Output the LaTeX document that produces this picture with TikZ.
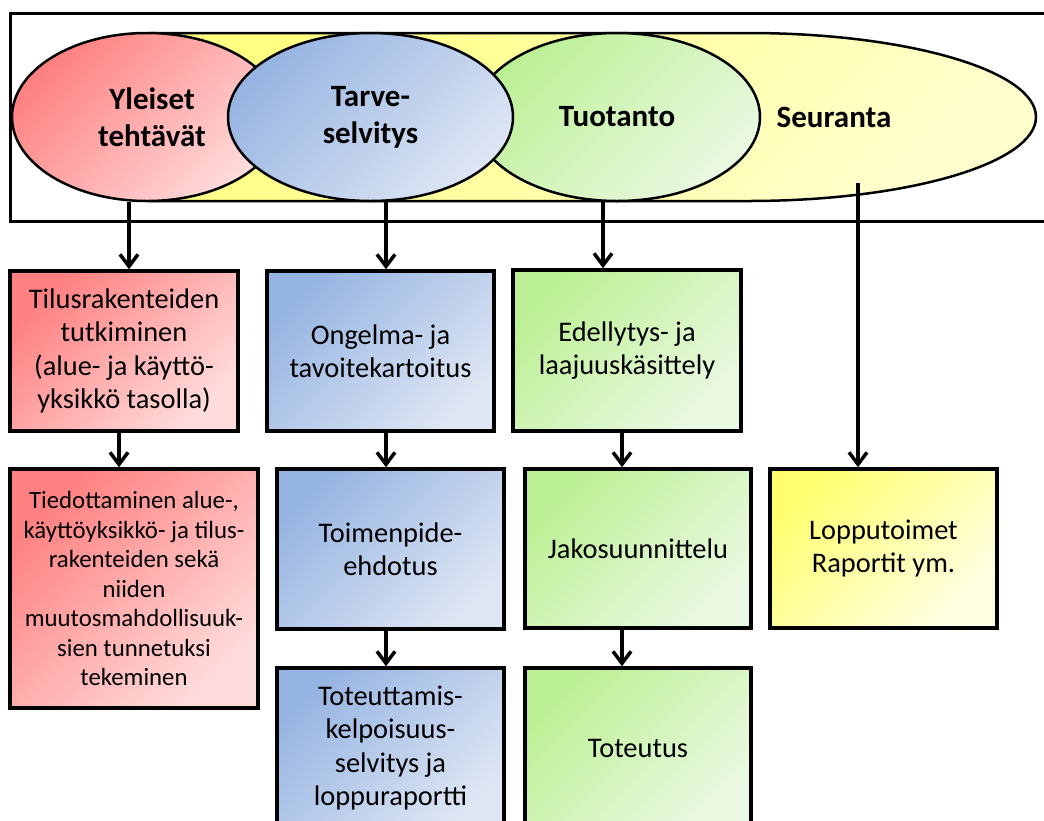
\documentclass[tikz,border=0pt]{standalone}
\usepackage{fontspec}
\setmainfont{Carlito}
\usetikzlibrary{arrows.meta,shapes.geometric}
\definecolor{redA}{RGB}{255,128,128}
\definecolor{redB}{RGB}{255,220,220}
\definecolor{bluA}{RGB}{150,180,226}
\definecolor{bluB}{RGB}{222,230,244}
\definecolor{grnA}{RGB}{188,240,148}
\definecolor{grnB}{RGB}{234,249,226}
\definecolor{yelA}{RGB}{255,255,112}
\definecolor{yelB}{RGB}{255,255,228}
\definecolor{yelC}{RGB}{255,255,130}
\definecolor{yelD}{RGB}{255,255,205}
\begin{document}
\begin{tikzpicture}[x=1pt,y=-1pt,
  ell/.style={ellipse, draw=black, line width=2.5pt, inner sep=0pt, align=center,
    font=\fontsize{31}{37}\selectfont\bfseries},
  box/.style={rectangle, draw=black, line width=3.5pt, inner sep=0pt, align=center,
    font=\fontsize{28.4}{33.5}\selectfont},
  gr/.style 2 args={top color=#1, bottom color=#2, shading angle=45},
  arr/.style={line width=3.5pt, -{Straight Barb[length=12pt,width=18pt]}}
]
\useasboundingbox (0,0) rectangle (1044,820);
\clip (0,0) rectangle (1044,820);

% outer frame
\draw[line width=3pt] (10,13) rectangle (1070,221);

% yellow band (Seuranta)
\path[draw=black, line width=2.5pt, gr={yelC}{yelD}]
  (150,33) -- (748,33) arc[start angle=90, end angle=-90, x radius=288pt, y radius=84pt]
  -- (150,201) -- cycle;
\coordinate (seur) at (858,183);
\node[font=\fontsize{31}{37}\selectfont\bfseries] (seurtxt) at (834,117) {Seuranta};

% ellipses
\node[ell, gr={grnA}{grnB}, minimum width=286pt, minimum height=168pt] (green) at (617,117) {Tuotanto};
\node[ell, gr={redA}{redB}, minimum width=270pt, minimum height=168pt] (red) at (147,117) {\hspace*{10pt}Yleiset\\\hspace*{10pt}tehtävät};
\node[ell, gr={bluA}{bluB}, minimum width=285pt, minimum height=168pt] (blue) at (370.5,117) {Tarve-\\selvitys};

% boxes
\node[box, gr={redA}{redB}, minimum width=228pt, minimum height=160pt] (r1) at (124,351)
  {Tilusrakenteiden\\tutkiminen\\(alue- ja käyttö-\\yksikkö tasolla)};
\node[box, gr={redA}{redB}, minimum width=248pt, minimum height=239pt,
  font=\fontsize{24.8}{29.5}\selectfont] (r2) at (134,588.5)
  {Tiedottaminen alue-,\\käyttöyksikkö- ja tilus-\\rakenteiden sekä\\niiden\\muutosmahdollisuuk-\\sien tunnetuksi\\tekeminen};

\node[box, gr={bluA}{bluB}, minimum width=227pt, minimum height=160pt] (b1) at (380.5,351)
  {Ongelma- ja\\tavoitekartoitus};
\node[box, gr={bluA}{bluB}, minimum width=227pt, minimum height=160pt] (b2) at (390.5,549)
  {Toimenpide-\\ehdotus};
\node[box, gr={bluA}{bluB}, minimum width=227pt, minimum height=160pt] (b3) at (390.5,748)
  {Toteuttamis-\\kelpoisuus-\\selvitys ja\\loppuraportti};

\node[box, gr={grnA}{grnB}, minimum width=228pt, minimum height=161pt] (g1) at (627,350.5)
  {Edellytys- ja\\laajuuskäsittely};
\node[box, gr={grnA}{grnB}, minimum width=226pt, minimum height=159pt] (g2) at (638,548.5)
  {Jakosuunnittelu};
\node[box, gr={grnA}{grnB}, minimum width=226pt, minimum height=160pt] (g3) at (638,748)
  {Toteutus};

\node[box, gr={yelA}{yelB}, minimum width=227pt, minimum height=159pt] (y1) at (883.5,548.5)
  {Lopputoimet\\Raportit ym.};

% connectors
\draw[arr] ([xshift=-18pt]red.south) -- ([xshift=5pt]r1.north);
\draw[arr] ([xshift=15.5pt]blue.south) -- ([xshift=5.5pt]b1.north);
\draw[arr] ([xshift=-14pt]green.south) -- ([xshift=-24pt]g1.north);
\draw[arr] (seur) -- ([xshift=-25.5pt]y1.north);

\draw[arr] ([xshift=-5pt]r1.south) -- ([xshift=-15pt]r2.north);
\draw[arr] ([xshift=5.5pt]b1.south) -- ([xshift=-4.5pt]b2.north);
\draw[arr] ([xshift=-4.5pt]b2.south) -- ([xshift=-4.5pt]b3.north);
\draw[arr] ([xshift=-5pt]g1.south) -- ([xshift=-16pt]g2.north);
\draw[arr] ([xshift=-16pt]g2.south) -- ([xshift=-16pt]g3.north);
\end{tikzpicture}
\end{document}
